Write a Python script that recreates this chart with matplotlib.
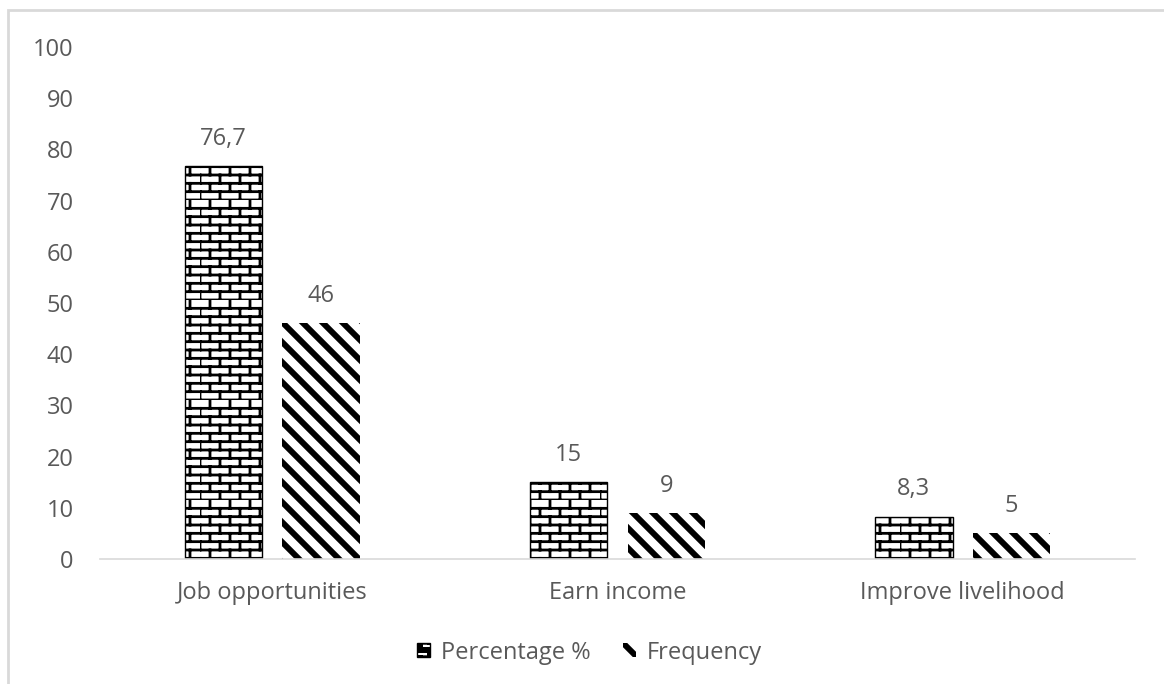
import warnings
import numpy as np
import matplotlib
matplotlib.use("Agg")
import matplotlib.pyplot as plt
import matplotlib.hatch as mhatch
from matplotlib.path import Path
from matplotlib.patches import Rectangle

warnings.filterwarnings("ignore")

categories = ["Job opportunities", "Earn income", "Improve livelihood"]
percentage = [76.7, 15, 8.3]
frequency = [46, 9, 5]
series_names = ["Percentage %", "Frequency"]


class BrickHatch(mhatch.HatchPatternBase):
    # brick wall pattern, triggered by 'B' in the hatch string
    def __init__(self, hatch, density):
        self.rows = 12 * hatch.count('B')
        self.cols = 5 * hatch.count('B')
        self.num_lines = self.rows + self.rows * self.cols
        self.num_vertices = self.num_lines * 2

    def set_vertices_and_codes(self, vertices, codes):
        k = 0
        for i in range(self.rows):
            y0 = i / self.rows
            y1 = (i + 1) / self.rows
            vertices[k] = (0, y0); vertices[k + 1] = (1, y0)
            codes[k] = Path.MOVETO; codes[k + 1] = Path.LINETO
            k += 2
            off = 0.5 * (i % 2) / self.cols
            for j in range(self.cols):
                x = j / self.cols + off
                vertices[k] = (x, y0); vertices[k + 1] = (x, y1)
                codes[k] = Path.MOVETO; codes[k + 1] = Path.LINETO
                k += 2


class WideDiag(mhatch.SouthEastHatch):
    # '\' stripes, 20px apart, triggered by 'D'
    def __init__(self, hatch, density):
        self.num_lines = 10 * hatch.count('D')
        self.num_vertices = (self.num_lines + 1) * 2 if self.num_lines else 0


mhatch._hatch_types.append(BrickHatch)
mhatch._hatch_types.append(WideDiag)

plt.rcParams['font.family'] = ['Open Sans', 'DejaVu Sans']
text_col = '#595959'
fs = 17

fig = plt.figure(figsize=(11.64, 6.84), dpi=100)
ax = fig.add_axes([0.0859, 0.1827, 0.8892, 0.7486])

x = np.arange(len(categories))
w = 0.226
off = 0.142

plt.rcParams['hatch.linewidth'] = 2.0
b1 = ax.bar(x - off, percentage, w, color='white', edgecolor='black',
            linewidth=1.0, hatch='B', label=series_names[0])
plt.rcParams['hatch.linewidth'] = 4.3
b2 = ax.bar(x + off, frequency, w, color='white', edgecolor='black',
            linewidth=0, hatch='D', label=series_names[1])

for bars, vals in ((b1, percentage), (b2, frequency)):
    for rect, v in zip(bars, vals):
        ax.annotate(f"{v:g}".replace('.', ','),
                    (rect.get_x() + rect.get_width() / 2, rect.get_height()),
                    xytext=(0, 11), textcoords='offset points',
                    ha='center', va='bottom', fontsize=fs, color=text_col)

ax.set_xlim(-0.5, 2.5)
ax.set_ylim(0, 100)
ax.set_yticks(range(0, 101, 10))
ax.set_xticks(x)
ax.set_xticklabels(categories)
ax.tick_params(axis='both', length=0, labelsize=fs, labelcolor=text_col)
ax.tick_params(axis='y', pad=19)
ax.tick_params(axis='x', pad=16)
for s in ['top', 'right', 'left']:
    ax.spines[s].set_visible(False)
ax.spines['bottom'].set_color('#d9d9d9')
ax.spines['bottom'].set_linewidth(1.2)

leg = ax.legend(loc='center', bbox_to_anchor=(0.473, -0.183), ncol=2, frameon=False,
                fontsize=fs, handlelength=0.55, handleheight=0.55, columnspacing=1.4,
                handletextpad=0.45)
for t in leg.get_texts():
    t.set_color(text_col)

# outer chart-area border (cropped on right and bottom)
fig.patches.append(Rectangle((8 / 1164, -0.1), 1.5, (684 - 10) / 684 + 0.1,
                             transform=fig.transFigure, fill=False,
                             edgecolor='#d9d9d9', linewidth=2))

fig.savefig("out.png", dpi=100)
